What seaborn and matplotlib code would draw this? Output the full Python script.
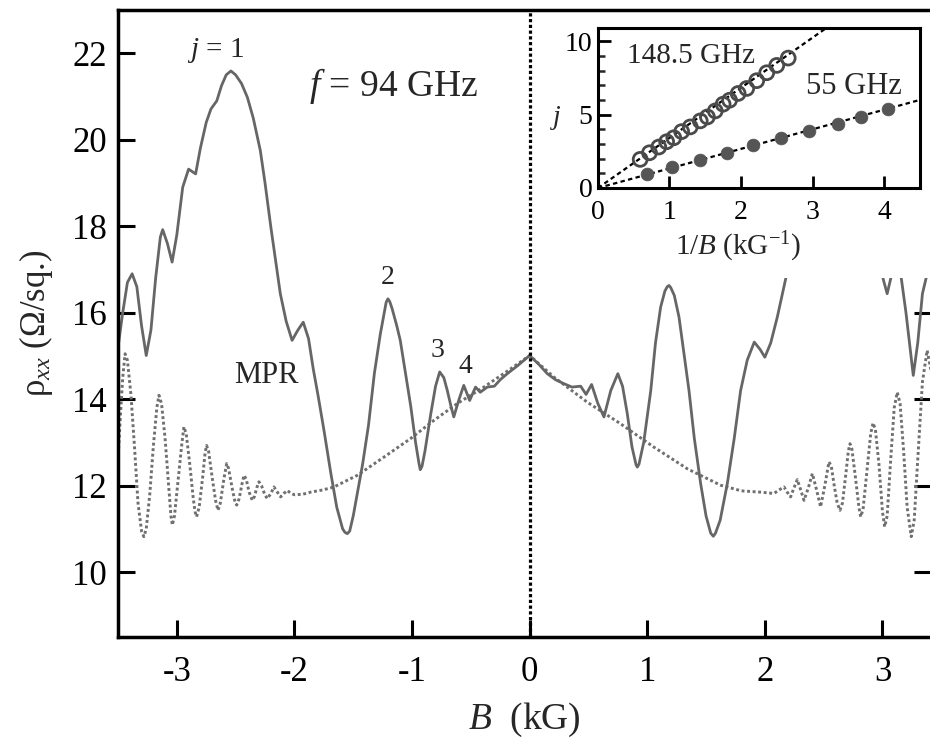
import matplotlib
matplotlib.use("Agg")
import matplotlib.pyplot as plt
import pandas as pd
import seaborn as sns
from matplotlib.patches import Rectangle
from matplotlib.ticker import MultipleLocator

# ---------------- data ----------------
# rho_xx under 94 GHz microwave (solid curve)
B_mw = [-3.50, -3.46, -3.42, -3.38, -3.34, -3.30, -3.26, -3.22, -3.18, -3.14,
        -3.12, -3.08, -3.04, -3.00, -2.95, -2.90, -2.84, -2.80, -2.75, -2.71,
        -2.66, -2.62, -2.58, -2.54, -2.50, -2.45, -2.40, -2.35, -2.29, -2.25,
        -2.20, -2.16, -2.12, -2.07, -2.02, -1.97, -1.925, -1.88, -1.84, -1.80,
        -1.75, -1.69, -1.64, -1.59, -1.57, -1.55, -1.53, -1.50, -1.46, -1.42,
        -1.37, -1.32, -1.27, -1.23, -1.22, -1.205, -1.19, -1.17, -1.13, -1.10,
        -1.05, -1.01, -0.97, -0.94, -0.93, -0.915, -0.89, -0.84, -0.80, -0.765,
        -0.73, -0.70, -0.67, -0.645, -0.60, -0.56,
        -0.51, -0.46, -0.42, -0.36, -0.30, -0.25, -0.19, -0.10, 0.00,
        0.08, 0.15, 0.22, 0.29, 0.36, 0.434, 0.48, 0.527, 0.58, 0.632,
        0.69, 0.75, 0.79, 0.83, 0.87, 0.905, 0.916, 0.93, 0.97, 1.03, 1.07,
        1.114, 1.15, 1.17, 1.185, 1.20, 1.23, 1.27, 1.31, 1.355, 1.40, 1.454,
        1.50, 1.54, 1.562, 1.58, 1.62, 1.681, 1.74, 1.794, 1.85, 1.91, 1.96,
        2.00, 2.05, 2.106,
        2.177, 2.25, 2.35, 2.45, 2.55, 2.65, 2.75, 2.85, 2.95, 3.01,
        3.04, 3.08, 3.14, 3.20, 3.262, 3.30, 3.34, 3.38, 3.45]
rho_mw = [15.2, 16.0, 16.7, 16.90, 16.6, 15.7, 15.01, 15.6, 16.8, 17.75,
          17.92, 17.6, 17.17, 17.8, 18.9, 19.32, 19.21, 19.8, 20.4, 20.71,
          20.90, 21.25, 21.5, 21.59, 21.5, 21.3, 20.98, 20.5, 19.75, 19.0,
          17.97, 17.2, 16.44, 15.8, 15.36, 15.6, 15.78, 15.4, 14.7, 14.1,
          13.3, 12.28, 11.5, 11.0, 10.92, 10.89, 10.95, 11.3, 11.9, 12.5,
          13.4, 14.6, 15.5, 16.1, 16.24, 16.32, 16.26, 16.1, 15.7, 15.36,
          14.5, 13.82, 13.0, 12.5, 12.37, 12.45, 12.8, 13.67, 14.3, 14.63,
          14.5, 14.20, 13.85, 13.59, 14.0, 14.32,
          13.97, 14.28, 14.16, 14.28, 14.30, 14.45, 14.59, 14.78, 15.01,
          14.8, 14.59, 14.45, 14.36, 14.28, 14.30, 14.11, 14.34, 13.9, 13.59,
          14.2, 14.59, 14.3, 13.67, 12.9, 12.48, 12.43, 12.5, 13.0, 14.20, 15.3,
          16.13, 16.5, 16.6, 16.63, 16.58, 16.4, 15.90, 15.1, 14.20, 13.1, 12.05,
          11.3, 10.9, 10.83, 10.9, 11.2, 12.05, 13.1, 14.20, 14.9, 15.32, 15.15,
          14.97, 15.3, 15.90,
          16.78, 18.0, 19.2, 20.0, 20.2, 19.8, 19.0, 18.2, 17.4, 16.74,
          16.44, 16.9, 17.2, 16.0, 14.55, 15.3, 16.44, 16.9, 17.3]

# rho_xx without microwave (dotted curve)
B_dark = [-3.50, -3.48, -3.46, -3.44, -3.42, -3.39, -3.36, -3.33, -3.30, -3.28,
          -3.26, -3.23, -3.20, -3.17, -3.152, -3.13, -3.10, -3.07, -3.05, -3.038,
          -3.02, -2.99, -2.96, -2.94, -2.92, -2.89, -2.86, -2.845, -2.832, -2.81,
          -2.78, -2.76, -2.747, -2.73, -2.70, -2.67, -2.65, -2.63, -2.60, -2.576,
          -2.56, -2.53, -2.505, -2.491, -2.47, -2.445, -2.429, -2.41, -2.385, -2.358,
          -2.34, -2.32, -2.302, -2.28, -2.25, -2.23, -2.20, -2.174, -2.145, -2.117,
          -2.09, -2.06, -2.03, -2.00, -1.93, -1.862, -1.76, -1.664, -1.465, -1.239,
          -1.012, -0.814, -0.615, -0.389, -0.162, 0.00,
          0.207, 0.49, 0.774, 1.057, 1.341, 1.624, 1.80, 1.964, 2.077, 2.12,
          2.163, 2.19, 2.219, 2.248, 2.276, 2.305, 2.333, 2.37, 2.404, 2.44,
          2.474, 2.51, 2.545, 2.565, 2.59, 2.615, 2.639, 2.66, 2.69, 2.71,
          2.724, 2.74, 2.77, 2.80, 2.815, 2.835, 2.87, 2.90, 2.92, 2.94,
          2.97, 3.00, 3.019, 3.04, 3.07, 3.10, 3.126, 3.15, 3.18, 3.21,
          3.245, 3.27, 3.30, 3.34, 3.38, 3.41, 3.45]
rho_dark = [12.6, 13.6, 14.5, 15.05, 14.9, 14.1, 12.9, 11.6, 10.95, 10.82,
            11.0, 11.8, 12.9, 13.8, 14.09, 13.9, 13.1, 12.0, 11.3, 11.09,
            11.3, 12.1, 12.9, 13.36, 13.2, 12.5, 11.7, 11.4, 11.28, 11.5,
            12.2, 12.75, 12.93, 12.8, 12.2, 11.65, 11.43, 11.6, 12.15, 12.51,
            12.4, 11.95, 11.62, 11.55, 11.7, 12.05, 12.24, 12.15, 11.85, 11.66,
            11.75, 11.95, 12.09, 12.0, 11.78, 11.70, 11.82, 11.97, 11.85, 11.74,
            11.82, 11.89, 11.82, 11.79, 11.80, 11.85, 11.90, 11.97, 12.24, 12.66,
            13.09, 13.51, 13.90, 14.28, 14.70, 15.01,
            14.51, 13.93, 13.43, 12.89, 12.39, 12.01, 11.88, 11.85, 11.82, 11.90,
            11.97, 11.85, 11.74, 11.95, 12.14, 11.90, 11.66, 11.95, 12.28, 11.90,
            11.51, 12.00, 12.55, 12.45, 12.00, 11.60, 11.43, 11.60, 12.30, 12.80,
            12.97, 12.85, 12.20, 11.50, 11.28, 11.45, 12.40, 13.20, 13.45, 13.30,
            12.50, 11.40, 11.05, 11.30, 12.60, 13.80, 14.16, 13.90, 12.80, 11.50,
            10.82, 11.20, 12.60, 14.40, 15.13, 14.70, 13.80]

# inset: j vs 1/B
invB_148 = [0.59, 0.72, 0.85, 0.96, 1.06, 1.17, 1.29, 1.43, 1.53, 1.64,
            1.75, 1.84, 1.96, 2.08, 2.22, 2.36, 2.50, 2.66]
j_148 = [1.95, 2.40, 2.79, 3.15, 3.42, 3.84, 4.16, 4.57, 4.84, 5.25,
         5.71, 5.98, 6.44, 6.78, 7.31, 7.85, 8.35, 8.85]
invB_55 = [0.69, 1.03, 1.43, 1.80, 2.17, 2.56, 2.95, 3.35, 3.68, 4.05]
j_55 = [0.96, 1.44, 1.88, 2.40, 2.92, 3.38, 3.88, 4.38, 4.84, 5.37]
fit_x = [0.0, 4.6]
fit_148 = [0.0, 15.7]
fit_55 = [0.0, 6.13]

main_xticks = [-3, -2, -1, 0, 1, 2, 3]
main_yticks = [10, 12, 14, 16, 18, 20, 22]
inset_xticks = [0, 1, 2, 3, 4]
inset_yticks = [0, 5, 10]

# ---------------- style ----------------
sns.set_style("ticks")
plt.rcParams["font.family"] = ["Liberation Serif", "DejaVu Serif"]
plt.rcParams["mathtext.fontset"] = "custom"
plt.rcParams["mathtext.rm"] = "Liberation Serif"
plt.rcParams["mathtext.it"] = "Liberation Serif:italic"
plt.rcParams["mathtext.bf"] = "Liberation Serif:bold"
plt.rcParams["axes.unicode_minus"] = False

fig = plt.figure(figsize=(9.3, 7.46), dpi=100)
ax = fig.add_axes([0.1269, 0.1461, 0.8742, 0.8405])
ax.set_zorder(0)

df_mw = pd.DataFrame({"B": B_mw, "rho": rho_mw})
df_dark = pd.DataFrame({"B": B_dark, "rho": rho_dark})

sns.lineplot(data=df_dark, x="B", y="rho", ax=ax, color="#707070",
             linewidth=2.1, linestyle=(0, (1.0, 0.9)), estimator=None,
             sort=False)
sns.lineplot(data=df_mw, x="B", y="rho", ax=ax, color="#666666",
             linewidth=2.0, estimator=None, sort=False)
ax.axvline(0, color="black", linewidth=2.3, linestyle=(0, (1.0, 0.8)))

ax.set_xlim(-3.5, 3.413)
ax.set_ylim(8.5, 23)
ax.set_xticks(main_xticks)
ax.set_yticks(main_yticks)
ax.tick_params(axis="both", direction="in", length=12, width=2.2,
               labelsize=25, colors="black")
ax.tick_params(axis="x", top=False, bottom=True, pad=14)
ax.tick_params(axis="y", left=True, right=True, labelright=False, pad=8)
for s in ax.spines.values():
    s.set_linewidth(2.5)
    s.set_color("black")
ax.set_xlabel("$B$  (kG)", fontsize=27, labelpad=8)
ax.set_ylabel("ρ$_{xx}$ (Ω/sq.)", fontsize=25, labelpad=12)

ax.text(-2.67, 21.92, "$j$ = 1", fontsize=21, ha="center", va="baseline")
ax.text(-1.879, 21.02, "$f$ = 94 GHz", fontsize=27, ha="left", va="baseline")
ax.text(-1.207, 16.67, "2", fontsize=20, ha="center", va="baseline")
ax.text(-0.78, 14.97, "3", fontsize=20, ha="center", va="baseline")
ax.text(-0.55, 14.60, "4", fontsize=20, ha="center", va="baseline")
ax.text(-2.24, 14.37, "MPR", fontsize=22, ha="center", va="baseline")

# white area behind the inset (covers curve parts under inset labels)
fig.add_artist(Rectangle((0.586, 0.627), 0.42, 0.354, transform=fig.transFigure,
                         facecolor="white", edgecolor="none", zorder=1))

# ---------------- inset ----------------
axin = fig.add_axes([0.643, 0.748, 0.346, 0.2145])
axin.set_zorder(2)
axin.set_facecolor("white")
sns.lineplot(x=fit_x, y=fit_148, ax=axin, color="black", linewidth=1.6,
             linestyle=(0, (2.0, 1.5)))
sns.lineplot(x=fit_x, y=fit_55, ax=axin, color="black", linewidth=1.6,
             linestyle=(0, (2.0, 1.5)))
sns.scatterplot(x=invB_148, y=j_148, ax=axin, marker="o", s=100,
                facecolors="none", edgecolor="#4a4a4a", linewidth=2.0,
                zorder=3)
sns.scatterplot(x=invB_55, y=j_55, ax=axin, marker="o", s=85,
                color="#555555", edgecolor="#555555", linewidth=0.5,
                zorder=3)
axin.set_xlim(0, 4.5)
axin.set_ylim(0, 10.9)
axin.set_xticks(inset_xticks)
axin.set_yticks(inset_yticks)
axin.yaxis.set_minor_locator(MultipleLocator(1))
axin.tick_params(axis="both", which="major", direction="in", length=9,
                 width=2.0, labelsize=20, colors="black")
axin.tick_params(axis="y", which="minor", direction="in", length=5,
                 width=1.8, left=True, right=False)
axin.tick_params(axis="x", top=False, pad=9)
axin.tick_params(axis="y", right=False, pad=4)
for s in axin.spines.values():
    s.set_linewidth(2.2)
    s.set_color("black")
axin.set_xlabel("1/$B$ (kG$^{-1}$)", fontsize=21)
axin.xaxis.set_label_coords(0.435, -0.26)
axin.set_ylabel("")
axin.text(-0.13, 0.44, "$j$", transform=axin.transAxes, fontsize=20,
          ha="center", va="center")
axin.text(0.41, 8.54, "148.5 GHz", fontsize=21, ha="left", va="baseline")
axin.text(2.91, 6.42, "55 GHz", fontsize=22, ha="left", va="baseline")

fig.savefig("out.png", dpi=100)
